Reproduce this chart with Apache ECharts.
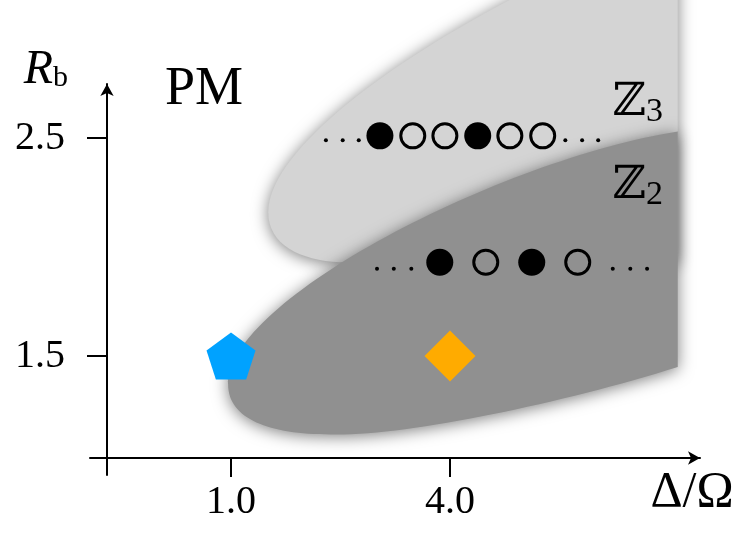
<!DOCTYPE html>
<html>
<head>
<meta charset="UTF-8">
<script src="https://cdn.jsdelivr.net/npm/echarts@6/dist/echarts.min.js"></script>
<style>
    html, body { margin: 0; background: #fff; }
    #main { width: 740px; height: 533px; }
</style>
</head>
<body>
<div id="main"></div>
<script>
// region outlines in (Delta/Omega, R_b); each curve = bezier control points,
// every piece starts where the previous one ended
// Z3 (light grey)
var z3Upper = [[1.51, 2.16], [1.51, 2.45], [3.32, 2.90], [5.51, 3.25]];
var z3Right = [[5.51, 3.25], [7.12, 3.25], [7.12, 1.93], [2.49, 1.93]];
var z3Lower = [[2.49, 1.93], [1.95, 1.94], [1.51, 2.01], [1.51, 2.16]];
// Z2 (dark grey)
var z2Upper = [[7.12, 2.53], [4.69, 2.40], [0.96, 1.76], [0.96, 1.37]];
var z2LowerLeft = [[0.96, 1.37], [0.96, 1.21], [1.53, 1.14], [2.36, 1.14]];
var z2LowerRight = [[2.36, 1.14], [3.32, 1.13], [5.51, 1.28], [7.12, 1.45]];

// occupation patterns
var z3RowY = 2.51;
var z3FilledX = [3.04, 4.38];
var z3OpenX = [3.49, 3.93, 4.82, 5.27];
var z3DotsX = [2.30, 2.53, 2.75, 5.58, 5.81, 6.03];
var z3DotsY = 2.49;
var z2RowY = 1.93;
var z2FilledX = [3.86, 5.12];
var z2OpenX = [4.49, 5.75];
var z2DotsX = [3.00, 3.23, 3.47, 6.23, 6.47, 6.70];
var z2DotsY = 1.90;

// marked parameter points
var pentagonPoint = [1.0, 1.5];
var diamondPoint = [4.0, 1.5];

// region labels [x, y, text]
var regionLabels = [
    [0.63, 2.72, '{pm|PM}'],
    [6.57, 2.66, '{z|ℤ}{s|3}'],
    [6.57, 2.28, '{z|ℤ}{s|2}']
];

var xTicks = [1, 4];
var yTicks = [1.5, 2.5];

var serif = 'Liberation Serif';

function row(xs, y) {
    return xs.map(function (x) { return [x, y]; });
}

// pieces: list of ['C', points] or ['L', points]
function regionRenderer(pieces, color) {
    return function (params, api) {
        var d = '';
        pieces.forEach(function (piece, k) {
            var pts = piece[1].map(function (p) { return api.coord(p); });
            if (k === 0) d += 'M' + pts[0][0] + ' ' + pts[0][1];
            var rest = pts.slice(1).map(function (p) { return p[0] + ' ' + p[1]; });
            if (piece[0] === 'C') d += ' C' + rest.join(' ');
            else rest.forEach(function (r) { d += ' L' + r; });
        });
        d += ' Z';
        return {
            type: 'path',
            shape: { pathData: d },
            style: {
                fill: color,
                shadowBlur: 16,
                shadowColor: 'rgba(0,0,0,0.5)',
                shadowOffsetY: 2
            }
        };
    };
}

var chart = echarts.init(document.getElementById('main'));

var axisCommon = {
    type: 'value',
    offset: -17,
    splitLine: { show: false },
    axisLine: {
        onZero: false,
        symbol: ['none', 'arrow'],
        symbolSize: [10, 12],
        lineStyle: { color: '#000', width: 2 }
    }
};

chart.setOption({
    animation: false,
    grid: { left: 90, right: 40, top: 84, bottom: 58 },
    xAxis: Object.assign({}, axisCommon, {
        min: -0.932,
        max: 7.425,
        axisTick: { customValues: xTicks, length: 19, lineStyle: { color: '#000', width: 2 } },
        axisLabel: {
            customValues: xTicks,
            formatter: function (v) { return v.toFixed(1); },
            margin: 24, fontSize: 40, fontFamily: serif, color: '#000'
        },
        name: 'Δ/Ω',
        nameLocation: 'end',
        nameGap: -8,
        nameTextStyle: {
            fontSize: 50, fontFamily: serif, color: '#000',
            align: 'center', verticalAlign: 'top', padding: [10, 0, 0, 0]
        }
    }),
    yAxis: Object.assign({}, axisCommon, {
        min: 0.954,
        max: 2.748,
        axisTick: { customValues: yTicks, length: 20, lineStyle: { color: '#000', width: 2 } },
        axisLabel: {
            customValues: yTicks,
            formatter: function (v) { return v.toFixed(1); },
            margin: 42, fontSize: 40, fontFamily: serif, color: '#000'
        },
        name: '{r|R}{b|b}',
        nameLocation: 'end',
        nameGap: 14,
        nameTextStyle: {
            align: 'right', verticalAlign: 'middle', padding: [0, 39, 0, 0],
            rich: {
                r: { fontFamily: serif, fontStyle: 'italic', fontSize: 48, color: '#000' },
                b: { fontFamily: serif, fontSize: 30, color: '#000', padding: [16, 0, 0, 0] }
            }
        }
    }),
    series: [
        {
            type: 'custom', name: 'Z3', silent: true,
            data: [[0, 0]],
            renderItem: regionRenderer([['C', z3Upper], ['L', z3Right], ['C', z3Lower]], '#d4d4d4')
        },
        {
            type: 'custom', name: 'Z2', silent: true,
            data: [[0, 0]],
            renderItem: regionRenderer([['C', z2Upper], ['C', z2LowerLeft], ['C', z2LowerRight]], '#909090')
        },
        {
            type: 'scatter', silent: true, symbolSize: 4,
            itemStyle: { color: '#000', opacity: 1 },
            data: row(z3DotsX, z3DotsY).concat(row(z2DotsX, z2DotsY))
        },
        {
            type: 'scatter', silent: true, symbolSize: 27,
            itemStyle: { color: '#000', opacity: 1 },
            data: row(z3FilledX, z3RowY).concat(row(z2FilledX, z2RowY))
        },
        {
            type: 'scatter', silent: true, symbolSize: 24,
            itemStyle: { color: 'rgba(0,0,0,0)', borderColor: '#000', borderWidth: 3, opacity: 1 },
            data: row(z3OpenX, z3RowY).concat(row(z2OpenX, z2RowY))
        },
        {
            type: 'scatter', silent: true,
            symbol: 'path://M0,-1 L0.951,-0.309 L0.588,0.809 L-0.588,0.809 L-0.951,-0.309 Z',
            symbolSize: [49, 47],
            itemStyle: { color: '#00a2ff', opacity: 1 },
            data: [pentagonPoint]
        },
        {
            type: 'scatter', silent: true, symbol: 'diamond',
            symbolSize: [51, 51],
            itemStyle: { color: '#ffab00', opacity: 1 },
            data: [diamondPoint]
        },
        {
            type: 'scatter', silent: true, symbolSize: 0,
            itemStyle: { opacity: 1 },
            data: regionLabels,
            label: {
                show: true, position: 'inside',
                formatter: function (p) { return p.data[2]; },
                rich: {
                    pm: { fontFamily: serif, fontSize: 54, color: '#000' },
                    z: { fontFamily: 'DejaVu Serif', fontSize: 46, color: '#000' },
                    s: { fontFamily: serif, fontSize: 34, color: '#000', padding: [18, 0, 0, 0] }
                }
            }
        }
    ]
});
</script>
</body>
</html>
